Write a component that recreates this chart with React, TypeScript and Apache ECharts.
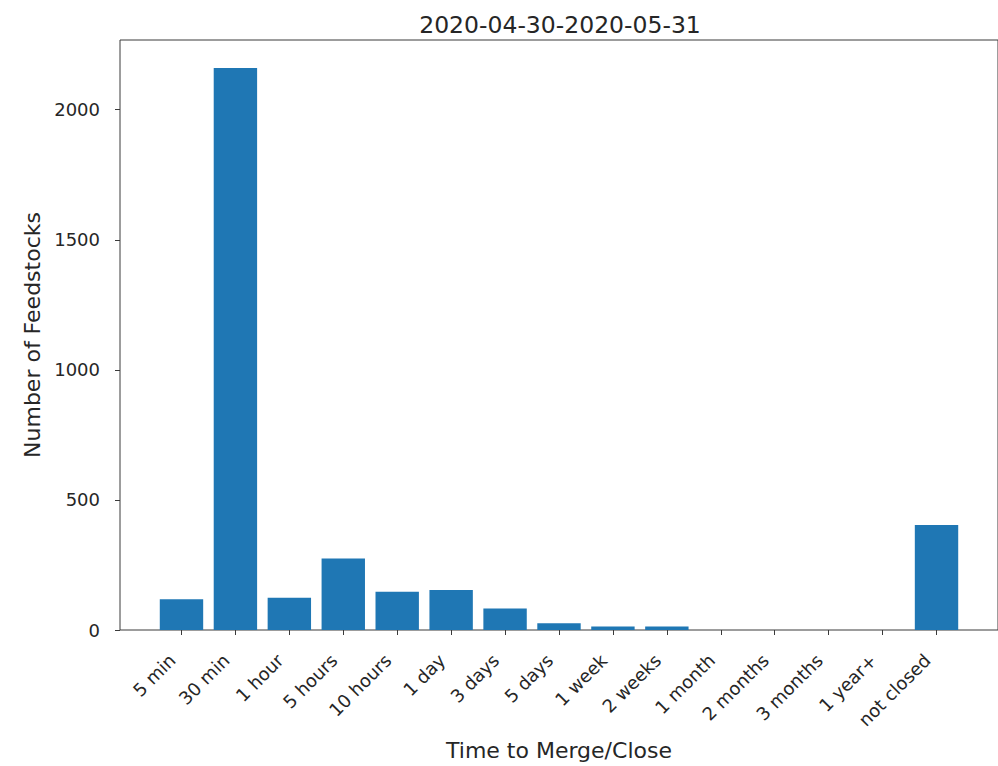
import React, { useEffect, useRef } from "react";
import * as echarts from "echarts";

const categories = [
  "5 min", "30 min", "1 hour", "5 hours", "10 hours", "1 day", "3 days",
  "5 days", "1 week", "2 weeks", "1 month", "2 months", "3 months", "1 year+", "not closed",
];
const counts = [118, 2160, 124, 275, 147, 154, 83, 26, 13, 13, 0, 0, 0, 0, 404];
const yTicks = [0, 500, 1000, 1500, 2000];
const titleText = "2020-04-30-2020-05-31";
const xTitle = "Time to Merge/Close";
const yTitle = "Number of Feedstocks";

const FONT = "DejaVu Sans";
const TXT = "#262626";
const AX = "#3a3a3a";

export default function App() {
  const ref = useRef<HTMLDivElement>(null);
  useEffect(() => {
    if (!ref.current) return;
    const chart = echarts.init(ref.current, null, { renderer: "svg" });
    const idx = categories.map((_, i) => i);
    chart.setOption({
      animation: false,
      backgroundColor: "#ffffff",
      textStyle: { fontFamily: FONT },
      title: {
        text: titleText,
        left: 555,
        textAlign: "center",
        top: 8,
        textStyle: { fontFamily: FONT, fontSize: 23.5, fontWeight: "normal", color: TXT },
      },
      grid: {
        left: 120,
        top: 40,
        width: 882,
        height: 590,
        show: true,
        borderColor: AX,
        borderWidth: 1,
        backgroundColor: "transparent",
      },
      xAxis: {
        type: "value",
        min: -1.14,
        max: 15.14,
        splitLine: { show: false },
        axisLine: { show: false, onZero: false },
        axisTick: { show: true, length: 5, lineStyle: { color: AX }, customValues: idx },
        axisLabel: {
          customValues: idx,
          rotate: 45,
          margin: 18,
          padding: [0, 13, 0, 0],
          fontFamily: FONT,
          fontSize: 18,
          color: TXT,
          formatter: (v: number) => categories[Math.round(v)] ?? "",
        },
        name: xTitle,
        nameLocation: "middle",
        nameGap: 109,
        nameTextStyle: { fontFamily: FONT, fontSize: 22, color: TXT },
      },
      yAxis: {
        type: "value",
        min: 0,
        max: 2268,
        splitLine: { show: false },
        axisLine: { show: false, onZero: false },
        axisTick: { show: true, length: 5, lineStyle: { color: AX }, customValues: yTicks },
        axisLabel: {
          customValues: yTicks,
          margin: 20,
          fontFamily: FONT,
          fontSize: 18,
          color: TXT,
          formatter: (v: number) => String(v),
        },
        name: yTitle,
        nameLocation: "middle",
        nameGap: 77,
        nameTextStyle: { fontFamily: FONT, fontSize: 22, color: TXT },
      },
      series: [
        {
          type: "bar",
          data: counts.map((v, i) => [i, v]),
          barWidth: 43.4,
          itemStyle: { color: "#1f77b4" },
        },
      ],
    });
    return () => chart.dispose();
  }, []);
  return (
    <div
      ref={ref}
      style={{ position: "fixed", left: 0, top: 0, width: 998, height: 766 }}
    />
  );
}
